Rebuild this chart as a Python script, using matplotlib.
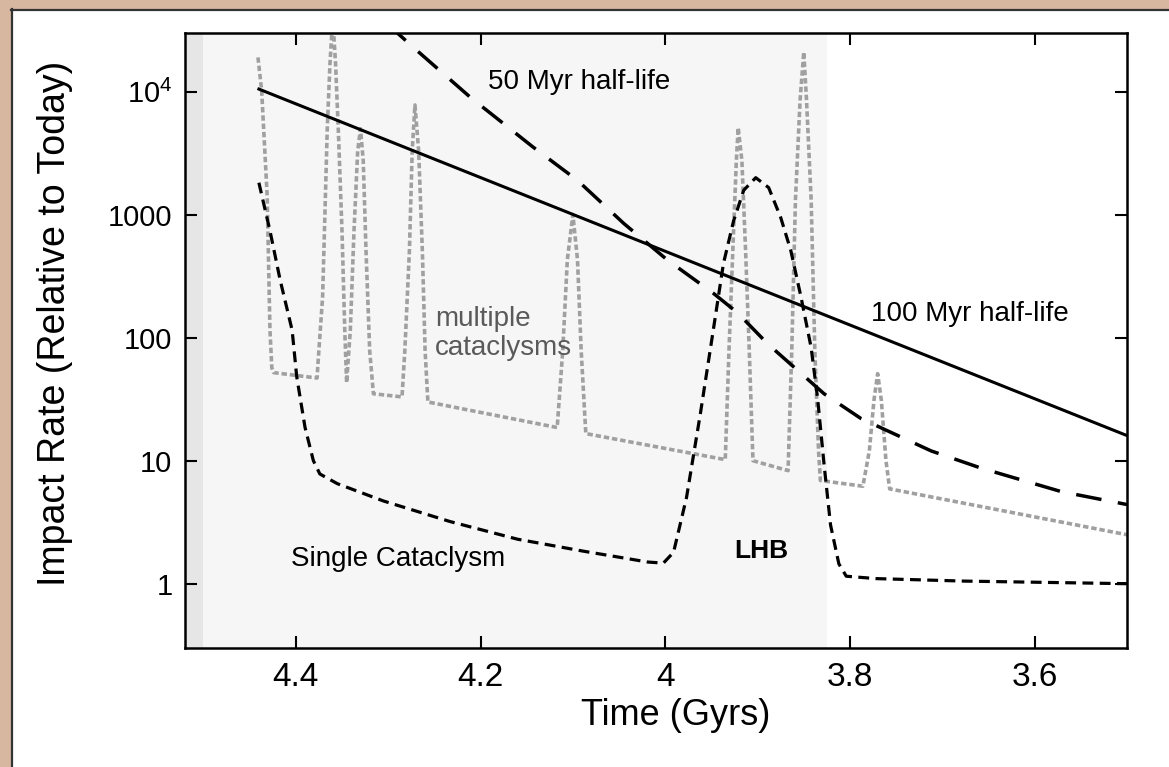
import matplotlib
matplotlib.use("Agg")
import matplotlib.pyplot as plt
from matplotlib.patches import Rectangle
from matplotlib.lines import Line2D
from matplotlib.ticker import NullLocator

plt.rcParams['font.family'] = ['Liberation Sans', 'DejaVu Sans']

# ---------------- data ----------------
# 100 Myr half-life (solid)
t_100 = [4.44, 3.50]
y_100 = [10500, 16]

# 50 Myr half-life (long dashes)
t_50 = [4.300, 4.290, 4.273, 4.211, 4.143, 4.095, 4.045, 3.998, 3.948, 3.922,
        3.889, 3.828, 3.788, 3.712, 3.658, 3.571, 3.500]
y_50 = [37000, 30000, 23000, 9000, 3540, 1900, 850, 430, 230, 160,
        89, 35, 22, 12, 8.7, 5.6, 4.4]

# Single cataclysm (short dashes)
t_single = [4.440, 4.428, 4.417, 4.404, 4.399, 4.390, 4.381, 4.374, 4.355, 4.305,
            4.233, 4.160, 4.089, 4.019, 4.002, 3.991, 3.977, 3.962, 3.948, 3.937,
            3.926, 3.915, 3.902, 3.888, 3.875, 3.864, 3.853, 3.842, 3.835, 3.828,
            3.821, 3.812, 3.804, 3.772, 3.677, 3.500]
y_single = [1820, 740, 295, 115, 48, 18.6, 10, 7.8, 6.5, 4.7,
            3.2, 2.3, 1.84, 1.5, 1.47, 1.8, 5, 24, 115, 400,
            890, 1580, 2000, 1660, 950, 510, 214, 83, 32, 9.3,
            3.0, 1.45, 1.15, 1.1, 1.05, 1.0]

# Multiple cataclysms (gray dotted)
t_multi = [4.441, 4.437, 4.431, 4.428, 4.426, 4.424, 4.377, 4.376, 4.371, 4.368,
           4.366, 4.363, 4.360, 4.357, 4.354, 4.350, 4.347, 4.345, 4.341, 4.337,
           4.333, 4.330, 4.327, 4.324, 4.320, 4.316, 4.285, 4.282, 4.277, 4.274,
           4.271, 4.267, 4.263, 4.260, 4.257, 4.117, 4.111, 4.106, 4.100, 4.095,
           4.091, 4.086, 3.935, 3.931, 3.926, 3.923, 3.921, 3.917, 3.913, 3.909,
           3.905, 3.867, 3.863, 3.859, 3.854, 3.850, 3.847, 3.842, 3.838, 3.834,
           3.832, 3.786, 3.779, 3.774, 3.770, 3.766, 3.761, 3.757, 3.500]
y_multi = [19000, 10200, 1410, 115, 57, 52, 47, 62, 214, 1380,
           4900, 17000, 40000, 17000, 4900, 740, 115, 43, 115, 740,
           3300, 5000, 2750, 510, 78, 35, 33, 78, 510, 3300,
           7800, 3300, 510, 78, 30, 18.6, 78, 430, 1000, 430,
           78, 16.6, 10.2, 78, 740, 2750, 5100, 2750, 510, 78,
           10, 8.3, 78, 1320, 8500, 21000, 8500, 1320, 78, 12,
           6.9, 6.2, 12, 31, 51, 31, 10, 5.9, 2.5]

x_ticks = [4.4, 4.2, 4.0, 3.8, 3.6]
x_ticklabels = ['4.4', '4.2', '4', '3.8', '3.6']
y_ticks = [1, 10, 100, 1000, 10000]
y_ticklabels = ['1', '10', '100', '1000', r'$\mathregular{10^4}$']

early_band = (4.52, 4.50)
lhb_band = (4.50, 3.825)

# ---------------- figure ----------------
W, H = 1169, 767
fig = plt.figure(figsize=(W / 100, H / 100), dpi=100)
fig.patch.set_facecolor('white')
tan = '#d8b7a0'
fig.add_artist(Rectangle((0, 0), 11 / W, 1, transform=fig.transFigure,
                         facecolor=tan, edgecolor='none', zorder=0))
fig.add_artist(Rectangle((0, (H - 9) / H), 1, 9 / H, transform=fig.transFigure,
                         facecolor=tan, edgecolor='none', zorder=0))
fig.add_artist(Line2D([11.5 / W, 11.5 / W], [0, (H - 9) / H], transform=fig.transFigure,
                      color='#333333', lw=1.6, zorder=1))
fig.add_artist(Line2D([11 / W, 1], [(H - 9.5) / H, (H - 9.5) / H], transform=fig.transFigure,
                      color='#333333', lw=1.6, zorder=1))

ax = fig.add_axes([185 / W, 119 / H, 942 / W, 615 / H])
ax.set_facecolor('white')
ax.axvspan(*early_band, color='#e6e6e6', lw=0, zorder=0)
ax.axvspan(*lhb_band, color='#f6f6f6', lw=0, zorder=0)

ax.plot(t_multi, y_multi, color='#a0a0a0', lw=2.6, dashes=(1.5, 0.8), zorder=2)
ax.plot(t_100, y_100, color='black', lw=2.2, zorder=3)
ax.plot(t_50, y_50, color='black', lw=2.5, dashes=(7.4, 4.8), zorder=3)
ax.plot(t_single, y_single, color='black', lw=2.3, dashes=(3.4, 2.0), zorder=3)

ax.set_yscale('log')
ax.set_xlim(4.52, 3.5)
ax.set_ylim(0.3, 3e4)
ax.set_xticks(x_ticks)
ax.set_xticklabels(x_ticklabels)
ax.set_yticks(y_ticks)
ax.set_yticklabels(y_ticklabels)
ax.yaxis.set_minor_locator(NullLocator())

for s in ax.spines.values():
    s.set_linewidth(1.8)
ax.tick_params(direction='in', length=8.5, width=1.5, top=True, right=True)
ax.tick_params(axis='x', labelsize=24, pad=10)
ax.tick_params(axis='y', labelsize=21, pad=9)

ax.set_xlabel('Time (Gyrs)', fontsize=26, va='center')
ax.xaxis.set_label_coords(0.521, -0.109)
ax.set_ylabel('Impact Rate (Relative to Today)', fontsize=27, va='center')
ax.yaxis.set_label_coords(-0.138, 0.528)

ax.text(4.192, 12000, '50 Myr half-life', fontsize=20, ha='left', va='center')
ax.text(3.7775, 157, '100 Myr half-life', fontsize=20, ha='left', va='center')
ax.text(4.249, 143, 'multiple', fontsize=20, ha='left', va='center', color='#5a5a5a')
ax.text(4.249, 83, 'cataclysms', fontsize=20, ha='left', va='center', color='#5a5a5a')
ax.text(4.405, 1.58, 'Single Cataclysm', fontsize=20, ha='left', va='center')
ax.text(3.925, 1.84, 'LHB', fontsize=19, ha='left', va='center', fontweight='bold')

fig.savefig('out.png', dpi=100, facecolor=fig.get_facecolor())
